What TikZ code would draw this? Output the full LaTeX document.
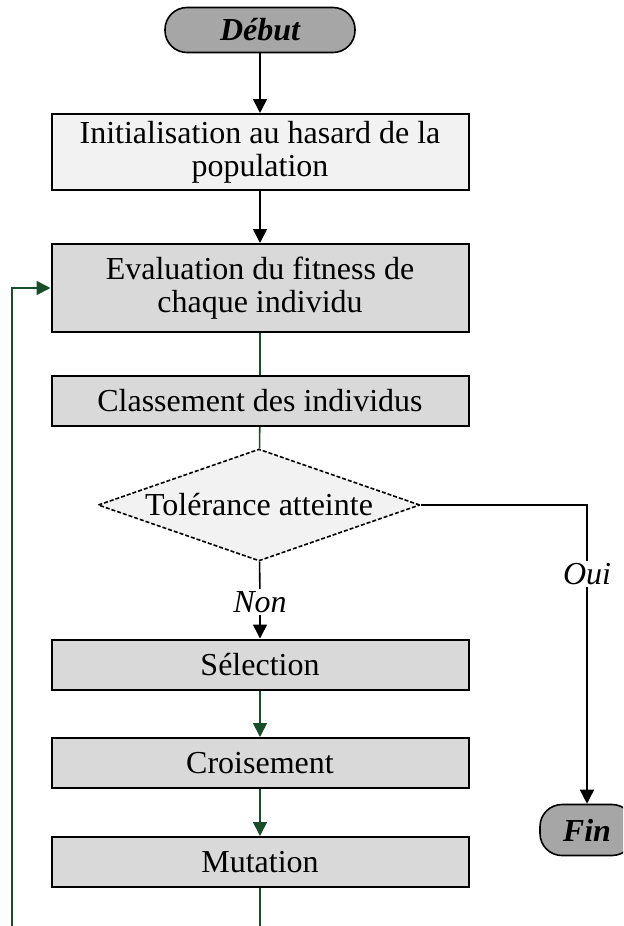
\documentclass[tikz,border=0pt]{standalone}
\usepackage{fontspec}
\setmainfont{Liberation Serif}
\usetikzlibrary{shapes.geometric, arrows.meta}
\definecolor{boxgray}{RGB}{217,217,217}
\definecolor{palegray}{RGB}{242,242,242}
\definecolor{termgray}{RGB}{166,166,166}
\definecolor{loopgreen}{RGB}{25,78,42}

\begin{document}
\begin{tikzpicture}[x=0.5pt, y=-0.5pt, font=\fontsize{16}{16.5}\selectfont,
  every node/.style = {align=center},
  stepbox/.style = {shape=rectangle, draw, line width=1pt, fill=boxgray,
    minimum width=208.5pt, minimum height=25pt, inner sep=0pt},
  term/.style = {shape=rectangle, rounded corners=11pt, draw, line width=0.8pt,
    fill=termgray, font=\fontsize{16}{16.5}\selectfont\bfseries\itshape},
  test/.style = {shape=diamond, aspect=2.9, draw, line width=0.8pt,
    dash pattern=on 2pt off 1pt, fill=palegray, minimum width=161pt,
    minimum height=56pt, inner sep=0pt},
  answer/.style = {font=\fontsize{16}{16.5}\selectfont\itshape, inner sep=1pt},
  link/.style = {line width=0.8pt, -{Triangle[length=7pt, width=7pt]}},
  glink/.style = {link, color=loopgreen},
  gline/.style = {line width=0.8pt, color=loopgreen}]
  \clip (0,0) rectangle (623,926);
  \node[term, minimum width=95pt, minimum height=22.5pt] (debut) at (260,30) {Début};
  \node[stepbox, fill=palegray, minimum height=38pt] (init) at (260,152)
    {Initialisation au hasard de la\\population};
  \node[stepbox, minimum height=44pt] (eval) at (260,288)
    {Evaluation du fitness de\\chaque individu};
  \node[stepbox] (class) at (260,401) {Classement des individus};
  \node[test] (tol) at (259,505) {Tolérance atteinte};
  \node[answer] (non) at (260,602) {Non};
  \node[answer] (oui) at (587,574) {Oui};
  \node[stepbox] (sel) at (260,664.5) {Sélection};
  \node[stepbox] (crois) at (260,763) {Croisement};
  \node[stepbox] (mut) at (260,862) {Mutation};
  \node[term, minimum width=47pt, minimum height=25.5pt] (fin) at (587,830) {Fin};
  \coordinate (corner) at (12,980);

  \draw[link] (debut) -- (init);
  \draw[link] (init) -- (eval);
  \draw[gline] (eval) -- (class);
  \draw[gline] (class) -- (tol);
  \draw[line width=0.8pt] (tol) -- (non);
  \draw[link] (non) -- (sel);
  \draw[line width=0.8pt] (tol.east) -| (oui.north);
  \draw[link] (oui) -- (fin);
  \draw[glink] (sel) -- (crois);
  \draw[glink] (crois) -- (mut);
  \draw[glink] (mut.south) |- (corner) |- (eval.west);
\end{tikzpicture}
\end{document}
